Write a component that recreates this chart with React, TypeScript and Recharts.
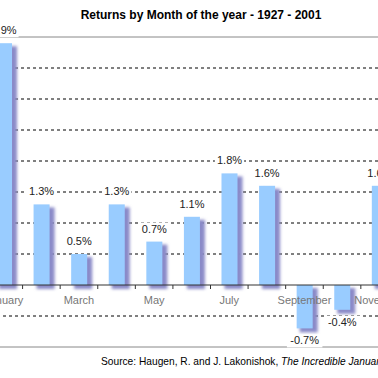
import { BarChart, Bar, XAxis, YAxis, CartesianGrid, ReferenceLine, LabelList } from 'recharts';

const months = [
  'January', 'February', 'March', 'April', 'May', 'June',
  'July', 'August', 'September', 'October', 'November', 'December',
];
const returns = [3.9, 1.3, 0.5, 1.3, 0.7, 1.1, 1.8, 1.6, -0.7, -0.4, 1.6, 1.5];
const gridValues = [-0.5, 0.5, 1, 1.5, 2, 2.5, 3, 3.5];
const yMin = -1;
const yMax = 4;

const data = months.map((month, i) => ({ month, ret: returns[i] }));

const FONT = '"Liberation Sans", Arial, sans-serif';
const TOP = 37;
const PLOT_H = 310;
// where 0% sits on the y scale; the month axis is drawn there
const ZERO_Y = TOP + (PLOT_H * yMax) / (yMax - yMin);

function MonthTick(props: any) {
  const { x, payload, index } = props;
  const left = x - (payload.offset || 0);
  return (
    <g>
      <line x1={left} x2={left} y1={ZERO_Y} y2={ZERO_Y + 4} stroke="#333" />
      {index % 2 === 0 && (
        <text x={x} y={ZERO_Y + 19} textAnchor="middle" fill="#777" fontSize={11} fontFamily={FONT}>
          {payload.value}
        </text>
      )}
    </g>
  );
}

function ShadowBar(props: any) {
  const { x, y, width, height } = props;
  const top = Math.min(y, y + height);
  const h = Math.abs(height);
  return (
    <g>
      <rect x={x + 3} y={top + 3} width={width + 2} height={h + 1} fill="#8a8ac8" filter="url(#barShadow)" />
      <rect x={x} y={top} width={width} height={h} fill="#99ccff" />
    </g>
  );
}

function ValueLabel(props: any) {
  const vb = props.viewBox || props;
  const { x, y, width } = vb;
  const value = props.value as number;
  const text = `${value.toFixed(1)}%`;
  const base = value >= 0 ? y - 9 : y + 16;
  const w = text.length * 6.3 + 4;
  const cx = x + width / 2;
  return (
    <g>
      <rect x={cx - w / 2} y={base - 10} width={w} height={13} fill="#fff" />
      <text x={cx} y={base} textAnchor="middle" fill="#222" fontSize={11} fontFamily={FONT}>
        {text}
      </text>
    </g>
  );
}

export default function App() {
  return (
    <div style={{ position: 'fixed', left: 0, top: 0, width: 378, height: 378, overflow: 'hidden', background: '#fff' }}>
      <div
        style={{
          position: 'absolute', left: 0, top: 9, width: 402, textAlign: 'center',
          fontFamily: FONT, fontWeight: 'bold', fontSize: 12, lineHeight: '12px', color: '#000', whiteSpace: 'nowrap',
        }}
      >
        Returns by Month of the year - 1927 - 2001
      </div>
      <div style={{ position: 'absolute', left: -15, top: 0 }}>
        <svg width={0} height={0} style={{ position: 'absolute' }}>
          <defs>
            <filter id="barShadow" x="-50%" y="-50%" width="200%" height="200%">
              <feGaussianBlur stdDeviation={1.5} />
            </filter>
          </defs>
        </svg>
        <BarChart width={451} height={378} data={data} margin={{ top: TOP, right: 0, left: 0, bottom: 0 }} barSize={16}>
          <CartesianGrid horizontal vertical={false} horizontalValues={gridValues} stroke="#000" strokeDasharray="3 3" />
          <YAxis hide domain={[yMin, yMax]} ticks={gridValues} />
          <XAxis
            dataKey="month"
            height={31}
            interval={0}
            axisLine={false}
            tickLine={false}
            tick={<MonthTick />}
          />
          <ReferenceLine y={yMax} stroke="#888" />
          <ReferenceLine y={yMin} stroke="#888" />
          <ReferenceLine y={0} stroke="#333" />
          <Bar dataKey="ret" shape={<ShadowBar />} isAnimationActive={false}>
            <LabelList dataKey="ret" content={<ValueLabel />} />
          </Bar>
        </BarChart>
      </div>
      <div
        style={{
          position: 'absolute', left: 101, top: 356, fontFamily: FONT, fontSize: 10.2, lineHeight: '11px',
          color: '#000', whiteSpace: 'nowrap',
        }}
      >
        Source: Haugen, R. and J. Lakonishok, <i>The Incredible January Effect</i>
      </div>
    </div>
  );
}
